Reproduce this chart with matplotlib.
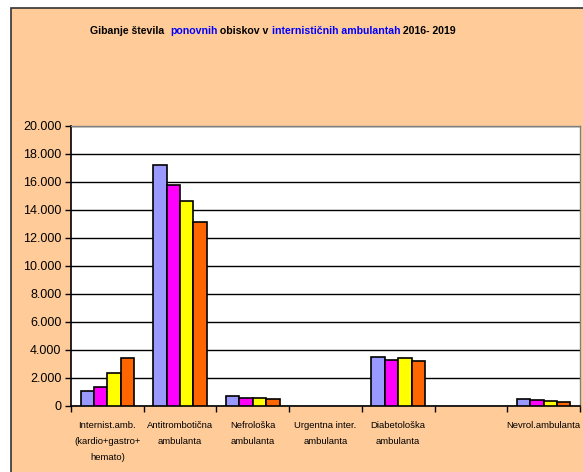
import numpy as np
import matplotlib.pyplot as plt
from matplotlib.patches import Rectangle
from matplotlib.ticker import FuncFormatter, FixedLocator

# categories (the 6th slot is empty in the original chart)
categories = ['Internist.amb.\n(kardio+gastro+\nhemato)', 'Antitrombotična\nambulanta',
              'Nefrološka\nambulanta', 'Urgentna inter.\nambulanta', 'Diabetološka\nambulanta',
              '', 'Nevrol.ambulanta']
years = ['2016', '2017', '2018', '2019']
v2016 = [1090, 17200, 680, 0, 3520, 0, 520]
v2017 = [1380, 15750, 600, 0, 3290, 0, 430]
v2018 = [2380, 14650, 560, 0, 3450, 0, 380]
v2019 = [3420, 13150, 480, 0, 3190, 0, 310]
colors = ['#9999FF', '#FF00FF', '#FFFF00', '#FF6600']

plt.rcParams['font.family'] = ['Liberation Sans', 'DejaVu Sans']

fig = plt.figure(figsize=(5.83, 4.72), dpi=100, facecolor='white')
W, H = 583, 472
# peach chart area with dark border
fig.patches.append(Rectangle((11 / W, -0.1), 1.2, 1 - 8 / H + 0.1, transform=fig.transFigure,
                             facecolor='#FFCC99', edgecolor='#333333', lw=1.2, zorder=-10))

ax = fig.add_axes([71 / W, 66 / H, 509 / W, 280.5 / H])
ax.set_facecolor('white')
ax.set_zorder(1)

x = np.arange(len(categories))
bw = 0.184
series = [v2016, v2017, v2018, v2019]
for i, vals in enumerate(series):
    xs = x + (i - 1.5) * bw
    hs = [v if v > 0 else np.nan for v in vals]
    ax.bar(xs, hs, width=bw, color=colors[i], edgecolor='black', linewidth=1.2, zorder=3, label=years[i])

ax.set_xlim(-0.5, len(categories) - 0.5)
ax.set_ylim(0, 20000)
ax.set_yticks(np.arange(0, 20001, 2000))
ax.yaxis.set_major_formatter(FuncFormatter(lambda v, p: f'{int(v):,}'.replace(',', '.')))
ax.yaxis.grid(True, color='black', linewidth=1.0, zorder=0)
ax.tick_params(axis='y', direction='out', length=4, width=1, labelsize=9, pad=3)

ax.xaxis.set_major_locator(FixedLocator(np.arange(-0.5, len(categories), 1)))
ax.xaxis.set_minor_locator(FixedLocator(x))
ax.set_xticklabels([])
ax.set_xticklabels(categories, minor=True, fontsize=6.8, linespacing=1.95)
ax.tick_params(axis='x', which='major', direction='out', length=4, width=1)
ax.tick_params(axis='x', which='minor', length=0, pad=11)

for s in ['left', 'bottom']:
    ax.spines[s].set_color('black')
    ax.spines[s].set_linewidth(1.2)
for s in ['top', 'right']:
    ax.spines[s].set_color('#808080')
    ax.spines[s].set_linewidth(1.0)

# multi-coloured title
parts = [('Gibanje števila  ', 'black'), ('ponovnih', '#0000FF'), (' obiskov v ', 'black'),
         ('internističnih ambulantah', '#0000FF'), (' 2016- 2019', 'black')]
prev = fig.text(90 / W, 1 - 31 / H, parts[0][0], color=parts[0][1], fontsize=7.6,
                fontweight='bold', va='center')
for txt, col in parts[1:]:
    prev = ax.annotate(txt, xy=(1, 0.5), xycoords=prev, xytext=(0, 0), textcoords='offset points',
                       color=col, fontsize=7.6, fontweight='bold', va='center',
                       annotation_clip=False)

fig.savefig('out.png', dpi=100)
